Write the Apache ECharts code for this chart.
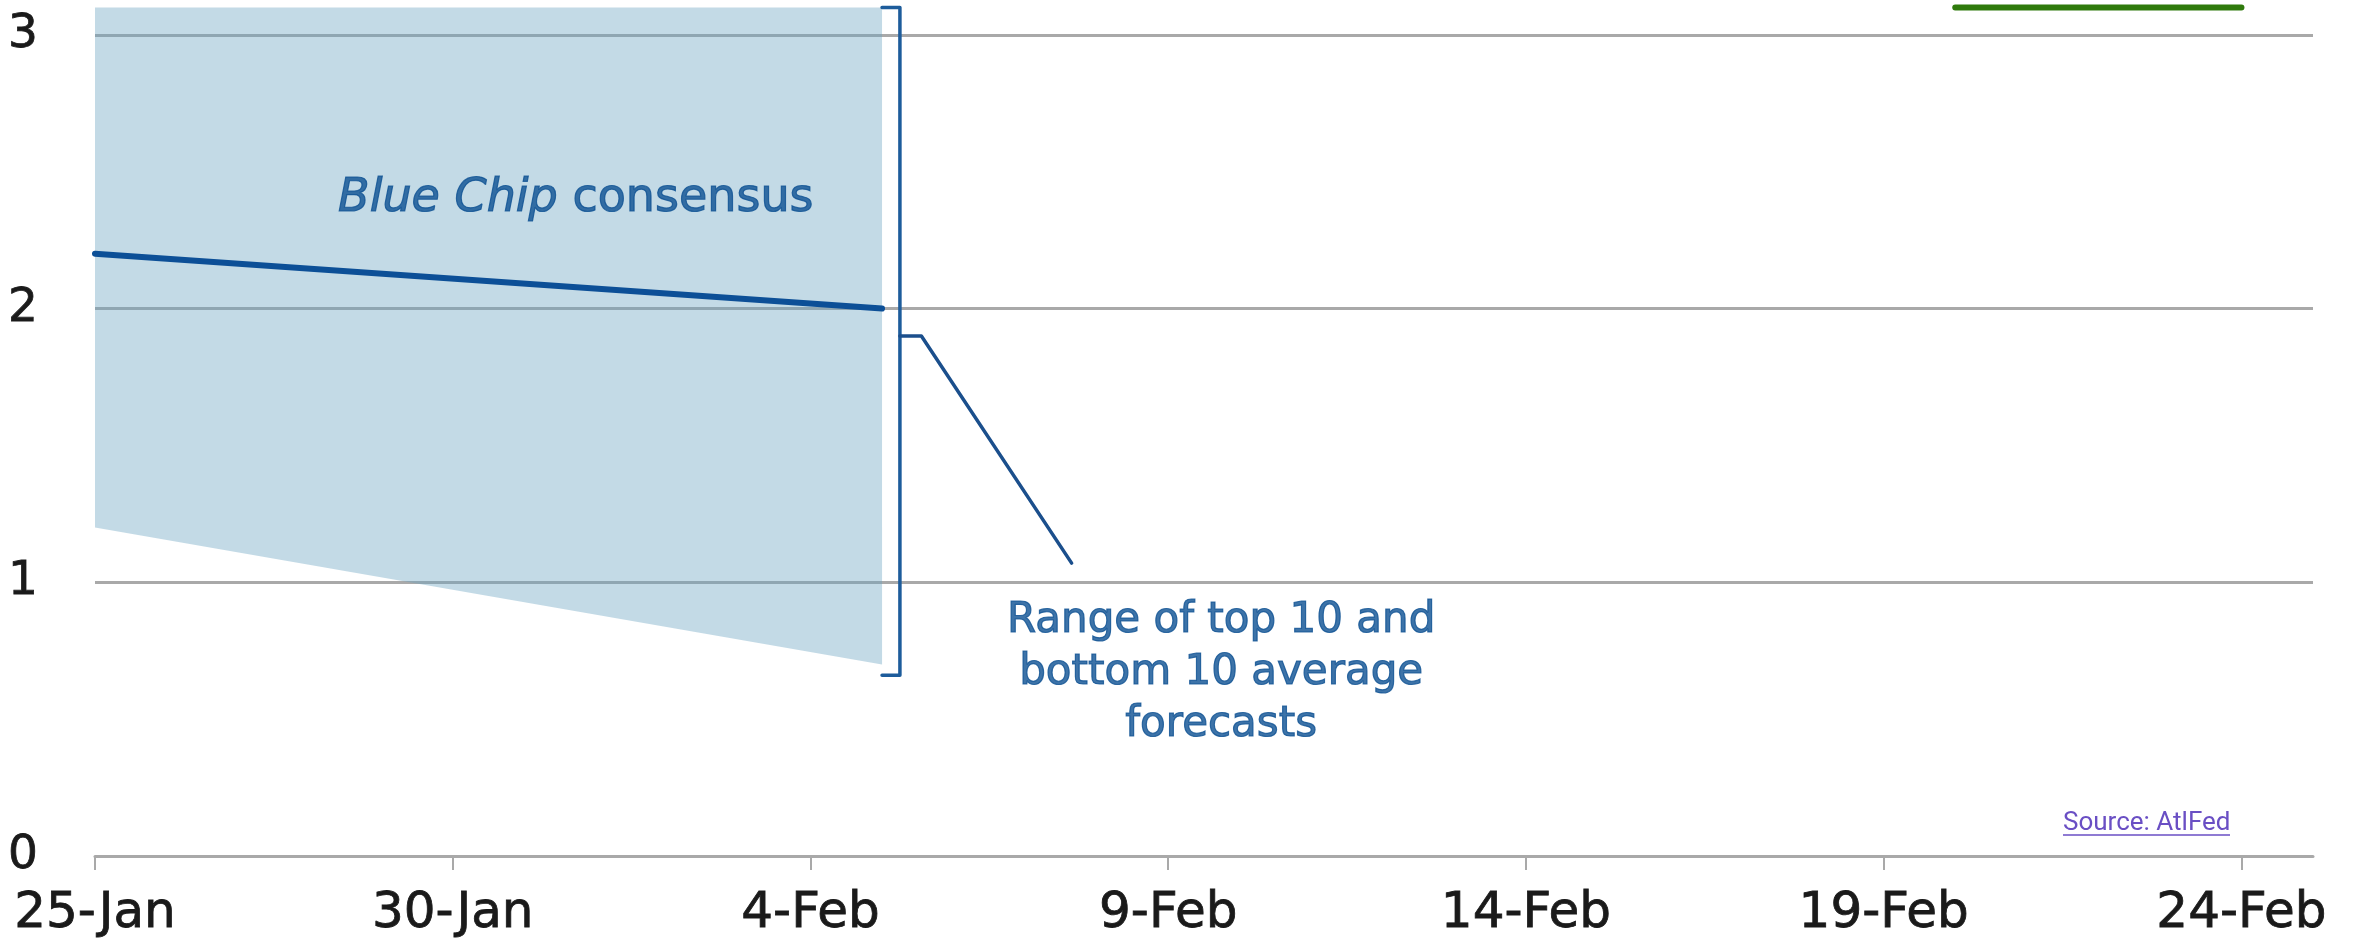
<!DOCTYPE html>
<html>
<head>
<meta charset="utf-8">
<script src="https://cdn.jsdelivr.net/npm/echarts@6/dist/echarts.min.js"></script>
<style>
  html, body { margin: 0; padding: 0; background: #ffffff; }
  #chart { width: 2359px; height: 943px; }
</style>
</head>
<body>
<div id="chart"></div>
<script>
// x positions are days counted from 25-Jan
const xTickDays = [0, 5, 10, 15, 20, 25, 30];
const xTickLabels = ['25-Jan', '30-Jan', '4-Feb', '9-Feb', '14-Feb', '19-Feb', '24-Feb'];
const yTickValues = [0, 1, 2, 3];

// range of top 10 and bottom 10 average forecasts
const rangeDays = [0, 11];
const rangeTop = [3.1, 3.1];
const rangeBottom = [1.2, 0.7];

// Blue Chip consensus
const consensusDays = [0, 11];
const consensusValues = [2.2, 2.0];

// green estimate line
const greenDays = [26, 30];
const greenValues = [3.1, 3.1];

// bracket around the range and its leader line to the note
const bracketDays = [11.0, 11.25, 11.25, 11.0];
const bracketLevels = [3.1, 3.1, 0.66, 0.66];
const leaderDays = [11.25, 11.55, 13.65];
const leaderLevels = [1.9, 1.9, 1.07];

// note anchors
const consensusNoteAt = [6.72, 2.4];
const rangeNoteAt = [15.74, 0.67];

const pairs = (xs, ys) => xs.map((x, i) => [x, ys[i]]);

const axisText = {
  fontFamily: 'DejaVu Sans',
  color: '#1a1a1a',
  textBorderColor: '#1a1a1a',
  textBorderWidth: 0.8
};

const noteBlue = '#0d5092';
const noteStyle = { fontFamily: 'DejaVu Sans', color: noteBlue, textBorderColor: noteBlue, textBorderWidth: 1.2 };

const chart = echarts.init(document.getElementById('chart'), null, { renderer: 'canvas' });

chart.setOption({
  animation: false,
  backgroundColor: '#ffffff',
  grid: { left: 95, right: 46, top: 2, bottom: 87, containLabel: false },
  xAxis: {
    type: 'value',
    min: 0,
    max: 31,
    interval: 5,
    axisLine: { show: true, lineStyle: { color: '#a9a9a9', width: 3 } },
    axisTick: { show: true, length: 14, lineStyle: { color: '#a9a9a9', width: 2 }, customValues: xTickDays },
    axisLabel: Object.assign({
      customValues: xTickDays,
      margin: 33,
      fontSize: 50,
      formatter: v => xTickLabels[xTickDays.indexOf(v)] || ''
    }, axisText),
    splitLine: { show: false }
  },
  yAxis: {
    type: 'value',
    min: 0,
    max: 3.12,
    interval: 1,
    axisLine: { show: false },
    axisTick: { show: false, customValues: yTickValues },
    axisLabel: Object.assign({
      customValues: yTickValues,
      margin: 57,
      fontSize: 47,
      padding: [20, 0, 0, 0]
    }, axisText),
    splitLine: { show: true, lineStyle: { color: '#a9a9a9', width: 3 } }
  },
  series: [
    {
      type: 'custom',
      name: 'Range',
      silent: true,
      z: 1,
      data: rangeDays.map((d, i) => [d, rangeBottom[i], rangeTop[i]]),
      encode: { x: 0, y: [1, 2] },
      renderItem: (params, api) => {
        if (params.dataIndex !== 0) return;
        const pts = [];
        rangeDays.forEach((d, i) => pts.push(api.coord([d, rangeTop[i]])));
        for (let i = rangeDays.length - 1; i >= 0; i--) {
          pts.push(api.coord([rangeDays[i], rangeBottom[i]]));
        }
        return {
          type: 'polygon',
          shape: { points: pts },
          style: { fill: 'rgba(104,163,192,0.4)' }
        };
      }
    },
    {
      type: 'line',
      name: 'Blue Chip consensus',
      silent: true,
      z: 3,
      symbol: 'none',
      data: pairs(consensusDays, consensusValues),
      lineStyle: { color: '#0c4f97', width: 6, cap: 'round' }
    },
    {
      type: 'line',
      name: 'Estimate',
      silent: true,
      z: 3,
      symbol: 'none',
      data: pairs(greenDays, greenValues),
      lineStyle: { color: '#2f7a0c', width: 6, cap: 'round' }
    },
    {
      type: 'line',
      name: 'Bracket',
      silent: true,
      z: 4,
      symbol: 'none',
      clip: false,
      data: pairs(bracketDays, bracketLevels),
      lineStyle: { color: '#1d5c9b', width: 3.5, join: 'round', cap: 'round' }
    },
    {
      type: 'line',
      name: 'Leader',
      silent: true,
      z: 4,
      symbol: 'none',
      data: pairs(leaderDays, leaderLevels),
      lineStyle: { color: '#1b4f8c', width: 3.5, join: 'round', cap: 'round' }
    },
    {
      type: 'scatter',
      name: 'Notes',
      silent: true,
      z: 5,
      symbolSize: 0,
      data: [
        { value: consensusNoteAt, note: 'consensus' },
        { value: rangeNoteAt, note: 'range' }
      ],
      label: {
        show: true,
        position: [0, 0],
        align: 'center',
        verticalAlign: 'middle',
        formatter: p => p.data.note === 'consensus'
          ? '{it|Blue Chip }{rg|consensus}'
          : '{r|Range of top 10 and}\n{r|bottom 10 average}\n{r|forecasts}',
        rich: {
          it: Object.assign({ fontStyle: 'italic', fontSize: 46 }, noteStyle),
          rg: Object.assign({ fontSize: 46 }, noteStyle),
          r: Object.assign({ fontSize: 42, lineHeight: 52, align: 'center' }, noteStyle)
        }
      }
    }
  ],
  graphic: [
    {
      type: 'text',
      left: 2063,
      top: 810,
      silent: true,
      style: {
        text: 'Source: AtlFed',
        fontFamily: 'Roboto',
        fontSize: 26,
        fill: '#6a4fc4'
      }
    },
    {
      type: 'line',
      silent: true,
      shape: { x1: 2063, y1: 835, x2: 2230, y2: 835 },
      style: { stroke: '#6a4fc4', lineWidth: 1.5 }
    }
  ]
});
</script>
</body>
</html>
